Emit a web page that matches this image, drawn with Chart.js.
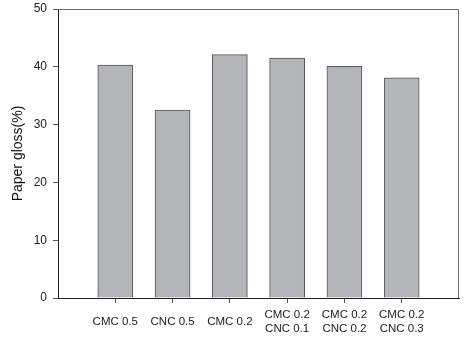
<!DOCTYPE html>
<html>
<head>
<meta charset="utf-8">
<script src="https://cdn.jsdelivr.net/npm/chart.js@4"></script>
<style>
  html, body { margin: 0; padding: 0; background: #fff; }
  #wrap { width: 465px; height: 339px; position: relative; }
</style>
</head>
<body>
<div id="wrap"><canvas id="glossChart"></canvas></div>
<script>
// Sample labels (two-line ones for the blends)
const categories = [
  ["CMC 0.5"],
  ["CNC 0.5"],
  ["CMC 0.2"],
  ["CMC 0.2", "CNC 0.1"],
  ["CMC 0.2", "CNC 0.2"],
  ["CMC 0.2", "CNC 0.3"],
];
// Paper gloss (%)
const glossValues = [40.3, 32.5, 42.1, 41.5, 40.1, 38.1];
const yTicks = [0, 10, 20, 30, 40, 50];

// Plot frame drawn around the chart area (top/right sides are gray)
const frameBox = {
  id: "frameBox",
  afterDraw(chart) {
    const { ctx, chartArea: a } = chart;
    ctx.save();
    ctx.strokeStyle = "#6e6e6e";
    ctx.lineWidth = 1;
    ctx.beginPath();
    ctx.moveTo(a.left, a.top + 0.5);
    ctx.lineTo(a.right - 0.5, a.top + 0.5);
    ctx.lineTo(a.right - 0.5, a.bottom);
    ctx.stroke();
    ctx.restore();
  },
};

const ctx = document.getElementById("glossChart");
new Chart(ctx, {
  type: "bar",
  data: {
    datasets: [
      {
        label: "Paper gloss",
        data: glossValues.map((v, i) => ({ x: i + 1, y: v })),
        backgroundColor: "#b4b5b9",
        borderColor: "#555555",
        borderWidth: 1,
        barThickness: 35,
      },
    ],
  },
  options: {
    responsive: true,
    maintainAspectRatio: false,
    animation: false,
    layout: { padding: { top: 9, right: 6, left: 0, bottom: 0 } },
    plugins: {
      legend: { display: false },
      tooltip: { enabled: false },
    },
    scales: {
      x: {
        type: "linear",
        min: 0,
        max: 7,
        offset: false,
        afterBuildTicks: (axis) => {
          axis.ticks = categories.map((_, i) => ({ value: i + 1 }));
        },
        afterFit: (axis) => {
          axis.height = 41;
          axis.paddingLeft = 0;
          axis.paddingRight = 0;
        },
        grid: {
          display: true,
          offset: false,
          drawOnChartArea: false,
          drawTicks: true,
          tickLength: 5,
          color: "#555",
        },
        border: { color: "#222", width: 1 },
        ticks: {
          autoSkip: false,
          maxRotation: 0,
          crossAlign: "center",
          padding: 12,
          color: "#222",
          font: { family: "Liberation Sans, Arial", size: 11.5, lineHeight: 1.2 },
          callback: (value) => categories[value - 1] || "",
        },
      },
      y: {
        min: 0,
        max: 50,
        afterBuildTicks: (axis) => {
          axis.ticks = yTicks.map((v) => ({ value: v }));
        },
        afterFit: (axis) => {
          axis.width = 58;
          axis.paddingTop = 0;
          axis.paddingBottom = 0;
        },
        grid: {
          display: true,
          drawOnChartArea: false,
          drawTicks: true,
          tickLength: 5,
          color: "#555",
        },
        border: { color: "#222", width: 1 },
        ticks: {
          padding: 6,
          color: "#222",
          font: { family: "Liberation Sans, Arial", size: 12 },
        },
        title: {
          display: true,
          text: "Paper gloss(%)",
          color: "#111",
          padding: { top: 10, bottom: 4 },
          font: { family: "Liberation Sans, Arial", size: 14 },
        },
      },
    },
  },
  plugins: [frameBox],
});
</script>
</body>
</html>
